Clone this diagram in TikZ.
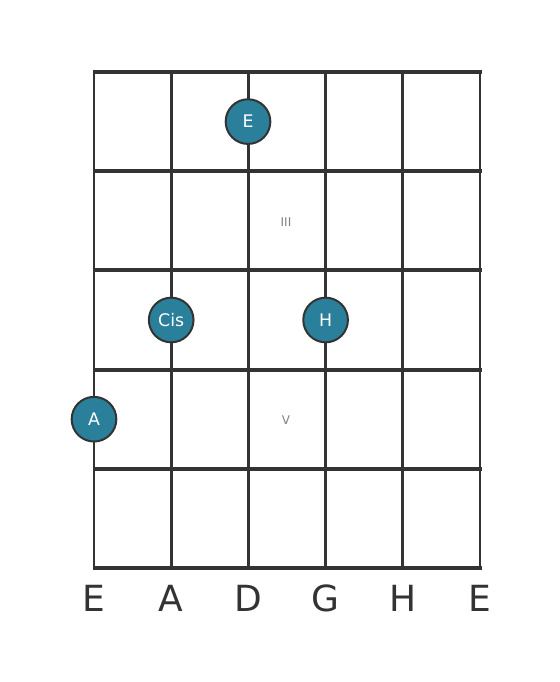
\documentclass[tikz,border=0pt]{standalone}
\usepackage{fontspec}
\setmainfont{DejaVu Sans}
\definecolor{notefill}{RGB}{42,127,155}
\definecolor{gridline}{RGB}{51,51,51}
\begin{document}
\begin{tikzpicture}[x=0.75pt,y=-0.75pt,
  note/.style={circle, fill=notefill, draw=gridline, line width=1.5pt, minimum size=33.5pt, inner sep=0pt, text=white, font=\fontsize{13}{13}\selectfont},
  fretno/.style={text=black!50, font=\fontsize{9}{9}\selectfont},
  stringname/.style={text=gridline, font=\fontsize{27}{27}\selectfont}]
\useasboundingbox (0,0) rectangle (560,682);

%strings
\foreach \x in {0,1,2,...,5}{
\draw[gridline, line width=2.2pt] ({94+77.2*\x},72) -- ({94+77.2*\x},568);}
%frets
\foreach \y in {0,1,2,...,5}{
\draw[gridline, line width=3pt] (92.5,{72+99.2*\y}) -- (481.5,{72+99.2*\y});}

\node[fretno] (fIII) at (286,222) {III};
\node[fretno] (fV) at (286,420) {V};

\node[note] (nE) at (248,121.6) {E};
\node[note] (nCis) at (171.2,320) {Cis};
\node[note] (nH) at (325.6,320) {H};
\node[note] (nA) at (94,419.2) {A};

\foreach \x/\s in {0/E,1/A,2/D,3/G,4/H,5/E}{
\node[stringname] (s\x) at ({94+77.2*\x},598) {\s};}
\end{tikzpicture}
\end{document}
